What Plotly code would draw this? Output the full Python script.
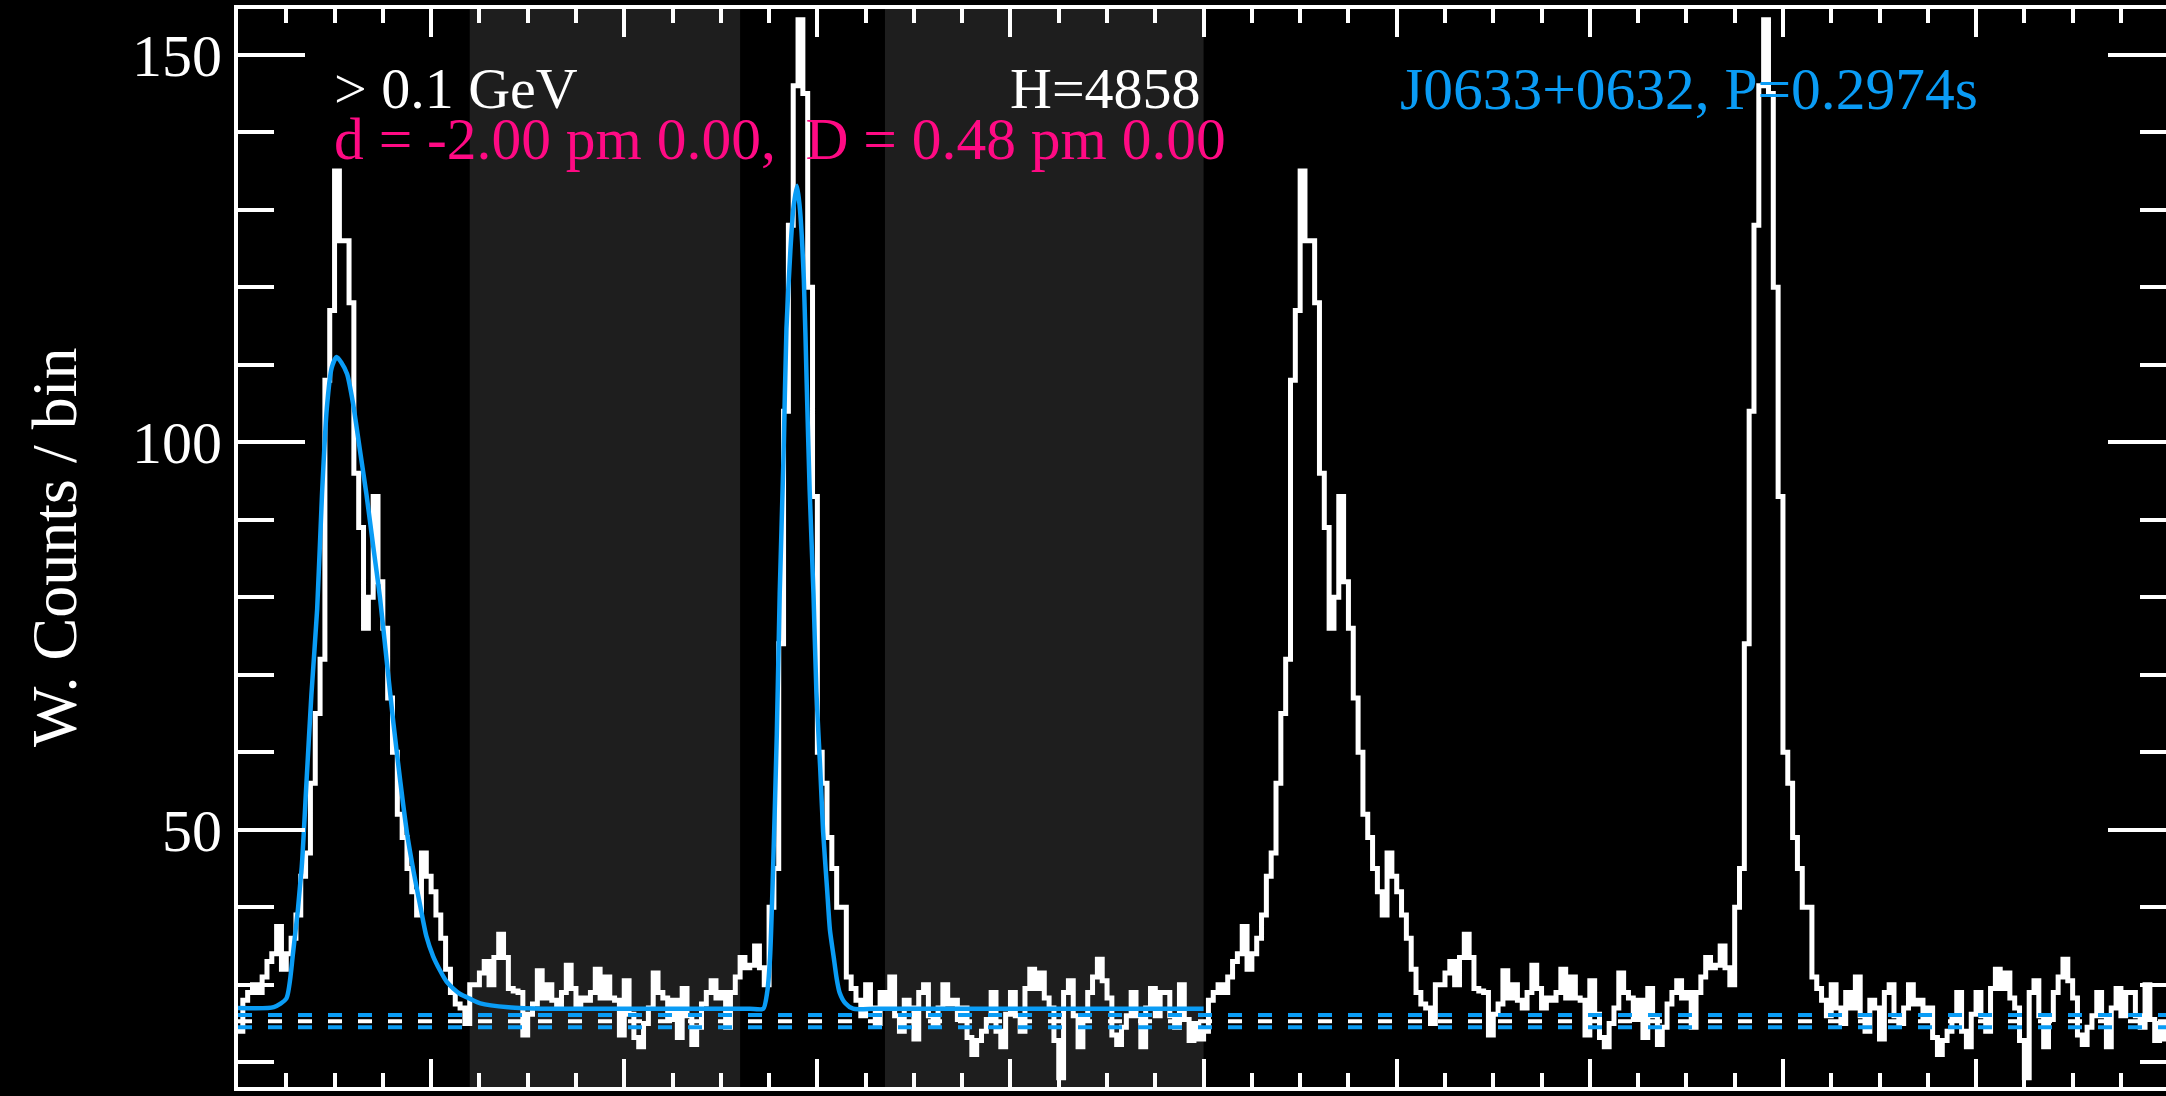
import plotly.graph_objects as go

# ---- pulse profile: weighted counts per phase bin (one rotation, 200 bins) ----
n_bins = 200
profile = [
    24, 28, 29, 30, 29, 31, 33, 34, 37.5, 32,
    34, 36, 39, 44, 47, 56, 65, 72, 108, 117,
    135, 126, 126, 118, 96, 89, 76, 80, 93, 82,
    76, 67, 60, 52, 49, 45, 42, 39, 47, 44,
    42, 39, 36, 32, 29, 27.5, 27, 25, 30, 30,
    31.5, 33, 30, 33.5, 36.5, 33.5, 29.5, 29.2, 29, 23.5,
    26.2, 27.5, 31.8, 28.3, 30, 28, 27, 29, 32.5, 29.5,
    27, 28.3, 28, 29, 32, 28.3, 31, 28.3, 28, 23.5,
    30.5, 26.2, 23.2, 22, 25, 27, 31.5, 29, 28.3, 25.5,
    28, 23.2, 29.5, 26, 22.3, 24.5, 27.5, 29, 30.5, 28.3,
    29, 24.5, 29, 31, 33.5, 32.2, 32.5, 35, 32.2, 30,
    40, 45, 74, 104, 128, 146, 154.5, 145, 120, 93,
    60, 56, 49, 45, 40, 40, 31, 29.5, 28, 26,
    30, 27, 25, 29, 27, 31, 26, 24, 28, 27,
    23, 29, 30, 26, 25, 27, 30, 27.5, 28, 25.5,
    27, 23.2, 21, 22.8, 24, 25.5, 29, 24, 22, 26.2,
    29, 26, 24, 29.5, 32, 29.5, 31.5, 28.3, 27, 22.8,
    18, 29, 30.5, 26, 22, 25.5, 29, 31, 33.3, 30.5,
    28.3, 23.5, 22.3, 24.5, 26, 29, 26, 22, 27, 29.5,
    26, 29, 29, 26, 24.5, 30, 25.5, 22.8, 25, 23,
]
n_cycles = 2

# ---- two-peak template fit over the first rotation ----
fit_phase = [
    0.000, 0.037, 0.050, 0.057, 0.066, 0.071, 0.076, 0.082, 0.087, 0.092,
    0.097, 0.102, 0.107, 0.113, 0.119, 0.126, 0.133, 0.140, 0.147, 0.154,
    0.161, 0.168, 0.175, 0.182, 0.189, 0.195, 0.202, 0.209, 0.216, 0.223,
    0.230, 0.240, 0.251, 0.280, 0.320, 0.400, 0.480, 0.530, 0.544, 0.548,
    0.551, 0.554, 0.558, 0.561, 0.565, 0.568, 0.572, 0.575, 0.579, 0.582,
    0.586, 0.589, 0.592, 0.596, 0.599, 0.603, 0.606, 0.610, 0.613, 0.617,
    0.620, 0.623, 0.629, 0.637, 0.660, 0.750, 0.850, 1.000,
]
fit_counts = [
    27.0, 27.1, 28.2, 34.1, 45.2, 56.3, 67.4, 78.5, 93.3, 104.4,
    109.6, 111.0, 110.3, 108.8, 105.1, 99.2, 93.3, 86.6, 80.0, 71.8,
    63.7, 56.3, 49.6, 44.5, 40.0, 36.3, 33.7, 31.9, 30.4, 29.5,
    28.8, 28.2, 27.6, 27.1, 26.9, 26.9, 26.9, 26.9, 26.9, 29.0,
    33.5, 44.3, 62.3, 80.4, 98.4, 114.7, 124.6, 130.0, 133.1, 130.0,
    121.0, 107.4, 93.9, 80.4, 67.8, 57.8, 49.7, 42.5, 37.1, 33.5,
    30.8, 29.0, 27.6, 26.9, 26.9, 26.9, 26.9, 26.9,
]

# ---- background estimate (dashed) and off-pulse windows (shaded) ----
bkg_levels = [26.1, 25.3, 24.5]
bkg_colors = ["#0a9cf5", "#ffffff", "#0a9cf5"]
off_pulse = [(0.24, 0.52), (0.67, 1.00)]

# ---- labels ----
energy_label = "> 0.1 GeV"
fit_label = "d = -2.00 pm 0.00,  D = 0.48 pm 0.00"
htest_label = "H=4858"
psr_label = "J0633+0632, P=0.2974s"
y_title = "W. Counts / bin"

WHITE = "#ffffff"
BLUE = "#0a9cf5"
PINK = "#ff0a84"
SHADE = "#1e1e1e"
FONT = "Liberation Serif"

# step-histogram vertices: bin left edges plus the closing edge
edges = [i / n_bins for i in range(n_bins * n_cycles + 1)]
counts = profile * n_cycles
counts = counts + [counts[-1]]

fig = go.Figure()

fig.add_trace(go.Scatter(
    x=edges, y=counts, mode="lines", line_shape="hv",
    line=dict(color=WHITE, width=5), showlegend=False, hoverinfo="skip",
))

fig.add_trace(go.Scatter(
    x=fit_phase, y=fit_counts, mode="lines",
    line=dict(color=BLUE, width=4.5, shape="spline", smoothing=0.6),
    showlegend=False, hoverinfo="skip",
))

for lvl, col in zip(bkg_levels, bkg_colors):
    fig.add_trace(go.Scatter(
        x=[0, n_cycles], y=[lvl, lvl], mode="lines",
        line=dict(color=col, width=4, dash="14px,16px"),
        showlegend=False, hoverinfo="skip",
    ))

# carrier for the right-hand tick axis
fig.add_trace(go.Scatter(x=[None], y=[None], yaxis="y2",
                         showlegend=False, hoverinfo="skip"))

for x0, x1 in off_pulse:
    fig.add_shape(type="rect", xref="x", yref="paper", x0=x0, x1=x1,
                  y0=0, y1=1, fillcolor=SHADE, line_width=0, layer="below")

W, H = 2166, 1096
ML, MT, MB = 238, 9, 9
plot_w = W - ML
plot_h = H - MT - MB


def px_x(px):
    return (px - ML) / plot_w


def px_y(py):
    return (H - MB - py) / plot_h


y_range = [16.8, 155.9]

fig.update_layout(
    width=W, height=H,
    margin=dict(l=ML, r=0, t=MT, b=MB, pad=0),
    paper_bgcolor="black", plot_bgcolor="black",
    font=dict(family=FONT, color=WHITE, size=58),
    xaxis=dict(
        range=[0, 1.9967], showgrid=False, zeroline=False,
        showline=True, linecolor=WHITE, linewidth=4, mirror="ticks",
        ticks="inside", ticklen=28, tickwidth=4, tickcolor=WHITE,
        tick0=0, dtick=0.2, showticklabels=False,
        minor=dict(dtick=0.05, ticks="inside", ticklen=14,
                   tickwidth=4, tickcolor=WHITE),
    ),
    yaxis=dict(
        range=y_range, showgrid=False, zeroline=False,
        showline=True, linecolor=WHITE, linewidth=4,
        ticks="inside", ticklen=67, tickwidth=4, tickcolor=WHITE,
        tick0=0, dtick=50, ticklabelstandoff=0,
        tickfont=dict(family=FONT, size=60, color=WHITE),
        minor=dict(dtick=10, ticks="inside", ticklen=36,
                   tickwidth=4, tickcolor=WHITE),
    ),
    yaxis2=dict(
        range=y_range, overlaying="y", side="right", anchor="x",
        showgrid=False, zeroline=False, showline=False,
        ticks="inside", ticklen=58, tickwidth=4, tickcolor=WHITE,
        tick0=0, dtick=50, showticklabels=False,
        minor=dict(dtick=10, ticks="inside", ticklen=26,
                   tickwidth=4, tickcolor=WHITE),
    ),
)

row1 = px_y(89)
row2 = px_y(139)
texts = [
    (energy_label, 332, row1, WHITE, 58),
    (fit_label, 332, row2, PINK, 59.5),
    (htest_label, 1008, row1, WHITE, 58),
    (psr_label, 1398, row1, BLUE, 59.5),
]
for txt, xpx, yp, col, fs in texts:
    fig.add_annotation(text=txt, xref="paper", yref="paper",
                       x=px_x(xpx), y=yp, xanchor="left", yanchor="middle",
                       showarrow=False,
                       font=dict(family=FONT, size=fs, color=col))

fig.add_annotation(text=y_title, xref="paper", yref="paper",
                   x=px_x(54), y=0.5, xanchor="center", yanchor="middle",
                   textangle=-90, showarrow=False,
                   font=dict(family=FONT, size=64, color=WHITE))

fig.write_html("out.html")
